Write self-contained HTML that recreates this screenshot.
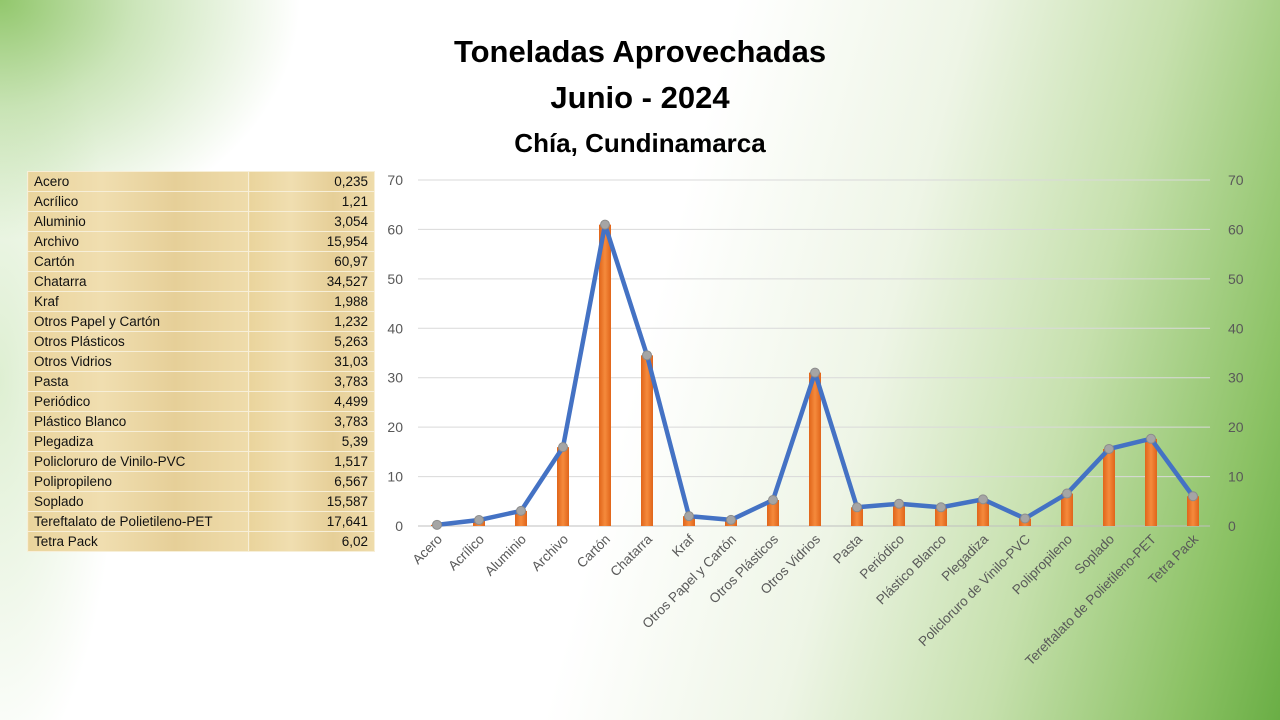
<!DOCTYPE html>
<html><head><meta charset="utf-8"><style>
body{margin:0;width:1280px;height:720px;overflow:hidden;font-family:"Liberation Sans",sans-serif;
background:
radial-gradient(ellipse 300px 240px at 0px 0px,rgba(140,196,100,0.95) 0%,rgba(170,212,140,0.6) 45%,rgba(255,255,255,0) 100%),
radial-gradient(ellipse 120px 400px at 0px 380px,rgba(200,228,180,0.6) 0%,rgba(255,255,255,0) 100%),
linear-gradient(105deg,#ffffff 0%,#ffffff 50%,#eef5e6 66%,#c6e0ad 80%,#8cc265 93%,#6aae45 100%);}
.t{position:absolute;left:0;width:1280px;text-align:center;font-weight:bold;color:#000}
table{position:absolute;left:27px;top:171px;border-collapse:collapse;width:348px;font-size:13.5px;color:#111;background:#ecd9a6}
td{height:19px;border:1px solid #f7efd8;padding:0 6px;line-height:19px;background:linear-gradient(90deg,#ead49c,#f0deb0,#e6cf98,#efdcab)}
td:first-child{width:208px}td:last-child{text-align:right}
</style></head><body>
<div class="t" style="top:34px;font-size:31px">Toneladas Aprovechadas</div>
<div class="t" style="top:80px;font-size:31px">Junio - 2024</div>
<div class="t" style="top:128px;font-size:26px">Chía, Cundinamarca</div>
<table>
<tr><td>Acero</td><td>0,235</td></tr><tr><td>Acrílico</td><td>1,21</td></tr><tr><td>Aluminio</td><td>3,054</td></tr><tr><td>Archivo</td><td>15,954</td></tr><tr><td>Cartón</td><td>60,97</td></tr><tr><td>Chatarra</td><td>34,527</td></tr><tr><td>Kraf</td><td>1,988</td></tr><tr><td>Otros Papel y Cartón</td><td>1,232</td></tr><tr><td>Otros Plásticos</td><td>5,263</td></tr><tr><td>Otros Vidrios</td><td>31,03</td></tr><tr><td>Pasta</td><td>3,783</td></tr><tr><td>Periódico</td><td>4,499</td></tr><tr><td>Plástico Blanco</td><td>3,783</td></tr><tr><td>Plegadiza</td><td>5,39</td></tr><tr><td>Policloruro de Vinilo-PVC</td><td>1,517</td></tr><tr><td>Polipropileno</td><td>6,567</td></tr><tr><td>Soplado</td><td>15,587</td></tr><tr><td>Tereftalato de Polietileno-PET</td><td>17,641</td></tr><tr><td>Tetra Pack</td><td>6,02</td></tr>
</table>
<svg id="c" width="1280" height="720" style="position:absolute;left:0;top:0" font-family="Liberation Sans, sans-serif">
<defs><linearGradient id="o" x1="0" x2="1"><stop offset="0" stop-color="#e0651a"/><stop offset=".5" stop-color="#f58a3c"/><stop offset="1" stop-color="#e0651a"/></linearGradient></defs>
<g id="g"></g></svg>
<script>
var v=[0.235,1.21,3.054,15.954,60.97,34.527,1.988,1.232,5.263,31.03,3.783,4.499,3.783,5.39,1.517,6.567,15.587,17.641,6.02];
var n=["Acero","Acrílico","Aluminio","Archivo","Cartón","Chatarra","Kraf","Otros Papel y Cartón","Otros Plásticos","Otros Vidrios","Pasta","Periódico","Plástico Blanco","Plegadiza","Policloruro de Vinilo-PVC","Polipropileno","Soplado","Tereftalato de Polietileno-PET","Tetra Pack"];
var s="",Y=function(x){return 526-x*4.943},X=function(i){return 437+i*42};
for(var k=0;k<=70;k+=10){var y=Y(k);s+='<line x1="418" x2="1210" y1="'+y+'" y2="'+y+'" stroke="'+(k?'#d9d9d9':'#bfbfbf')+'"/>';
s+='<text x="403" y="'+(y+5)+'" font-size="14" fill="#595959" text-anchor="end">'+k+'</text><text x="1228" y="'+(y+5)+'" font-size="14" fill="#595959">'+k+'</text>';}
var p="";
v.forEach(function(d,i){var x=X(i);s+='<rect x="'+(x-6)+'" y="'+Y(d)+'" width="12" height="'+(d*4.943)+'" fill="url(#o)"/>';p+=(i?'L':'M')+x+' '+Y(d);
s+='<text transform="translate('+(x+6)+',540) rotate(-45)" font-size="13.5" fill="#595959" text-anchor="end">'+n[i]+'</text>';});
s+='<path d="'+p+'" fill="none" stroke="#4472c4" stroke-width="4.5" stroke-linejoin="round"/>';
v.forEach(function(d,i){s+='<circle cx="'+X(i)+'" cy="'+Y(d)+'" r="4.5" fill="#a5a5a5" stroke="#8c8c8c"/>';});
document.getElementById("g").innerHTML=s;
</script>
</body></html>
